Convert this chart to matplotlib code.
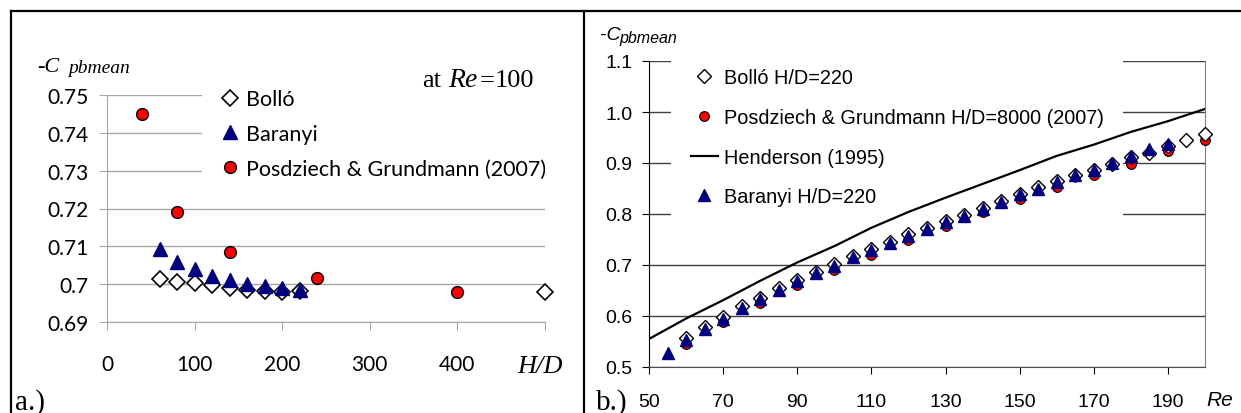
import matplotlib
matplotlib.use("Agg")
import matplotlib.pyplot as plt
from matplotlib.lines import Line2D

W, H = 1241, 414

# panel a.) - mean base pressure coefficient vs H/D at Re=100
HD_BOLLO = [60, 80, 100, 120, 140, 160, 180, 200, 220, 500]
CP_BOLLO = [0.7014, 0.7006, 0.7002, 0.6997, 0.6991, 0.6985, 0.6983, 0.6979, 0.6981, 0.6978]
HD_BARANYI = [60, 80, 100, 120, 140, 160, 180, 200, 220]
CP_BARANYI = [0.7093, 0.7058, 0.7039, 0.7021, 0.7010, 0.7000, 0.6995, 0.6991, 0.6984]
HD_POSDZIECH = [40, 80, 140, 240, 400]
CP_POSDZIECH = [0.7451, 0.7190, 0.7084, 0.7016, 0.6980]

A_XTICKS = [0, 100, 200, 300, 400, 500]
A_XLABELS = ["0", "100", "200", "300", "400", ""]
A_YTICKS = [0.69, 0.70, 0.71, 0.72, 0.73, 0.74, 0.75]
A_YLABELS = ["0.69", "0.7", "0.71", "0.72", "0.73", "0.74", "0.75"]

# panel b.) - mean base pressure coefficient vs Re
RE_BOLLO = [60, 65, 70, 75, 80, 85, 90, 95, 100, 105, 110, 115, 120, 125, 130,
            135, 140, 145, 150, 155, 160, 165, 170, 175, 180, 185, 190, 195, 200]
CPB_BOLLO = [0.556, 0.578, 0.598, 0.619, 0.636, 0.654, 0.671, 0.687, 0.702, 0.718,
             0.732, 0.745, 0.760, 0.773, 0.786, 0.799, 0.812, 0.826, 0.839, 0.852,
             0.865, 0.876, 0.887, 0.899, 0.912, 0.919, 0.933, 0.945, 0.957]
RE_BARANYI = [55, 60, 65, 70, 75, 80, 85, 90, 95, 100, 105, 110, 115, 120, 125,
              130, 135, 140, 145, 150, 155, 160, 165, 170, 175, 180, 185, 190]
CPB_BARANYI = [0.527, 0.552, 0.574, 0.595, 0.615, 0.634, 0.651, 0.668, 0.684, 0.698,
               0.715, 0.730, 0.743, 0.757, 0.770, 0.784, 0.797, 0.810, 0.824, 0.839,
               0.850, 0.863, 0.876, 0.887, 0.900, 0.914, 0.927, 0.938]
RE_POSDZIECH = [60, 70, 80, 90, 100, 110, 120, 130, 140, 150, 160, 170, 180, 190, 200]
CPB_POSDZIECH = [0.546, 0.589, 0.625, 0.660, 0.690, 0.720, 0.749, 0.777, 0.803, 0.829,
                 0.853, 0.876, 0.899, 0.923, 0.946]
RE_HENDERSON = [50, 60, 70, 80, 90, 100, 110, 120, 130, 140, 150, 160, 170, 180, 190, 200]
CPB_HENDERSON = [0.555, 0.595, 0.631, 0.669, 0.705, 0.737, 0.773, 0.804, 0.832, 0.859,
                 0.886, 0.914, 0.936, 0.961, 0.982, 1.006]

B_XTICKS = [50, 70, 90, 110, 130, 150, 170, 190]
B_YTICKS = [0.5, 0.6, 0.7, 0.8, 0.9, 1.0, 1.1]

SANS_A = "Lato"
SANS_B = "Liberation Sans"
SERIF = "Liberation Serif"


def fx(px):
    return px / W


def fy(py):
    return 1 - py / H


fig = plt.figure(figsize=(W / 100, H / 100), dpi=100)

# frame lines of the table the two panels sit in
for xs, ys in [([11, W], [12, 12]), ([11, 11], [12, H]), ([584, 584], [12, H])]:
    fig.add_artist(Line2D([fx(x) for x in xs], [fy(y) for y in ys],
                          color="black", lw=1.6, transform=fig.transFigure))

# ---------------- panel a.) ----------------
ax1 = fig.add_axes([fx(107), fy(323), (545 - 107) / W, (323 - 96) / H])
ax1.set_axisbelow(True)
ax1.set_xlim(0, 500)
ax1.set_ylim(0.69, 0.75)
ax1.set_xticks(A_XTICKS)
ax1.set_xticklabels(A_XLABELS, family=SANS_A, fontsize=15)
ax1.set_yticks(A_YTICKS)
ax1.set_yticklabels(A_YLABELS, family=SANS_A, fontsize=15)
ax1.yaxis.grid(True, color="#a6a6a6", lw=1)
for s in ["top", "right"]:
    ax1.spines[s].set_visible(False)
for s in ["left", "bottom"]:
    ax1.spines[s].set_color("#a6a6a6")
ax1.tick_params(axis="x", direction="out", length=6, color="#a6a6a6", pad=17)
ax1.tick_params(axis="y", direction="out", length=6, color="#a6a6a6", pad=7)

h_bo, = ax1.plot(HD_BOLLO, CP_BOLLO, ls="none", marker="D", ms=8.5,
                 mfc="white", mec="black", mew=1.2, label="Bolló", zorder=3, clip_on=False)
h_ba, = ax1.plot(HD_BARANYI, CP_BARANYI, ls="none", marker="^", ms=10,
                 mfc="#000080", mec="#000080", label="Baranyi", zorder=4, clip_on=False)
h_po, = ax1.plot(HD_POSDZIECH, CP_POSDZIECH, ls="none", marker="o", ms=8.5,
                 mfc="red", mec="black", mew=1, label="Posdziech & Grundmann (2007)",
                 zorder=4, clip_on=False)
leg1 = ax1.legend(handles=[h_bo, h_ba, h_po], loc="upper left",
                  bbox_to_anchor=(fx(202), fy(71)), bbox_transform=fig.transFigure,
                  prop={"family": SANS_A, "size": 15.5}, frameon=True, facecolor="white",
                  edgecolor="none", fancybox=False, framealpha=1, borderpad=0.9,
                  handlelength=0.8, handletextpad=0.35, labelspacing=0.68, borderaxespad=0)

fig.text(fx(37), fy(72), "-C", family=SERIF, style="italic", fontsize=16, va="baseline")
fig.text(fx(68), fy(73), "pbmean", family=SERIF, style="italic", fontsize=14, va="baseline")
fig.text(fx(422), fy(87), "at", family=SERIF, fontsize=19, va="baseline")
fig.text(fx(448), fy(87), "Re", family=SERIF, style="italic", fontsize=20, va="baseline")
fig.text(fx(480), fy(87), "=", family=SERIF, fontsize=19, va="baseline")
fig.text(fx(495), fy(87), "100", family=SERIF, fontsize=19, va="baseline")
fig.text(fx(517), fy(373), "H/D", family=SERIF, style="italic", fontsize=19, va="baseline")
fig.text(fx(15), fy(410), "a.)", family=SERIF, fontsize=21, va="baseline")

# ---------------- panel b.) ----------------
ax2 = fig.add_axes([fx(649), fy(368), (1205 - 649) / W, (368 - 62) / H])
ax2.set_axisbelow(True)
ax2.set_xlim(50, 200)
ax2.set_ylim(0.5, 1.1)
ax2.set_xticks(B_XTICKS)
ax2.set_xticklabels([str(v) for v in B_XTICKS], family=SANS_B, fontsize=14)
ax2.set_yticks(B_YTICKS)
ax2.set_yticklabels(["%.1f" % v for v in B_YTICKS], family=SANS_B, fontsize=14)
ax2.yaxis.grid(True, color="#404040", lw=1)
ax2.spines["top"].set_visible(False)
ax2.spines["right"].set_color("#808080")
ax2.spines["left"].set_color("black")
ax2.spines["bottom"].set_color("#505050")
ax2.tick_params(axis="x", direction="out", length=5, pad=14)
ax2.tick_params(axis="y", direction="out", length=5, pad=7)

h2_po, = ax2.plot(RE_POSDZIECH, CPB_POSDZIECH, ls="none", marker="o", ms=7,
                  mfc="red", mec="black", mew=0.8,
                  label="Posdziech & Grundmann H/D=8000 (2007)", zorder=3, clip_on=False)
h2_he, = ax2.plot(RE_HENDERSON, CPB_HENDERSON, color="black", lw=1.6,
                  label="Henderson (1995)", zorder=3)
h2_bo, = ax2.plot(RE_BOLLO, CPB_BOLLO, ls="none", marker="D", ms=7.5,
                  mfc="white", mec="black", mew=1, label="Bolló H/D=220", zorder=4,
                  clip_on=False)
h2_ba, = ax2.plot(RE_BARANYI, CPB_BARANYI, ls="none", marker="^", ms=8,
                  mfc="#000080", mec="#000080", label="Baranyi H/D=220", zorder=5,
                  clip_on=False)
leg2 = ax2.legend(handles=[h2_bo, h2_po, h2_he, h2_ba], loc="upper left",
                  bbox_to_anchor=(fx(671), fy(49)), bbox_transform=fig.transFigure,
                  prop={"family": SANS_B, "size": 14.3}, frameon=True, facecolor="white",
                  edgecolor="none", fancybox=False, framealpha=1, borderpad=1.0,
                  handlelength=1.35, handletextpad=0.3, labelspacing=1.05, borderaxespad=0)
leg2.set_zorder(2.5)

fig.text(fx(600), fy(40), "-C", family=SANS_B, style="italic", fontsize=14, va="baseline")
fig.text(fx(619), fy(43), "pbmean", family=SANS_B, style="italic", fontsize=11.5, va="baseline")
fig.text(fx(1206), fy(406), "Re", family=SANS_B, style="italic", fontsize=15, va="baseline")
fig.text(fx(596), fy(410), "b.)", family=SERIF, fontsize=21, va="baseline")

fig.savefig("out.png", dpi=100)
